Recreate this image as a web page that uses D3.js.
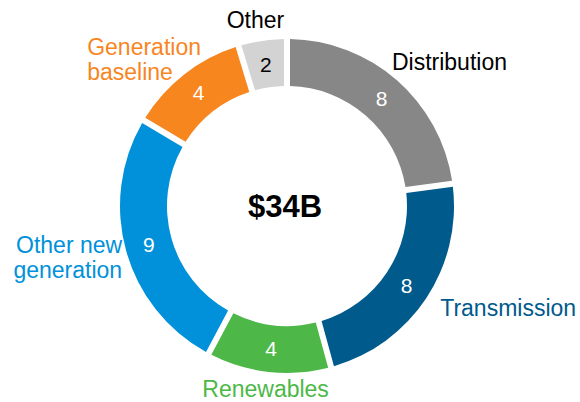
<!DOCTYPE html>
<html>
<head>
<meta charset="utf-8">
<script src="https://cdn.jsdelivr.net/npm/d3@7"></script>
<style>
  body { margin: 0; background: #fff; }
  text { font-family: "Liberation Sans", Arial, sans-serif; }
</style>
</head>
<body>
<div id="chart"></div>
<script>
// segments clockwise from 12 o'clock (values in $B, estimated from the arc sizes)
const categories = ["Distribution", "Transmission", "Renewables", "Other new generation", "Generation baseline", "Other"];
const values = [7.8, 7.8, 4.1, 8.8, 4.0, 1.6];
const labelLines = [["Distribution"], ["Transmission"], ["Renewables"], ["Other new", "generation"], ["Generation", "baseline"], ["Other"]];
const totalLabel = "$34B";

const colors = ["#878787", "#005a8c", "#4db848", "#0091da", "#f7861f", "#d3d3d3"];
const textColors = ["#000000", "#005a8c", "#4db848", "#0091da", "#f7861f", "#000000"];
const valueColors = ["#ffffff", "#ffffff", "#ffffff", "#ffffff", "#ffffff", "#000000"];

const config = {
    width: 580,
    height: 402,
    cx: 287,
    cy: 206,
    outer: 167,
    inner: 120,
    gap: 6
};

// where each category label sits relative to the outer edge of its slice
const labelLayout = [
    { anchor: "start", dx: -5, dy: -10 },
    { anchor: "start", dx: 14, dy: 18 },
    { anchor: "middle", dx: -3, dy: 25 },
    { anchor: "end", dx: -4, dy: 2 },
    { anchor: "start", dx: -97, dy: -19 },
    { anchor: "middle", dx: -7, dy: -13 }
];

const data = categories.map((c, i) => ({ name: c, value: values[i], i: i }));

const svg = d3.select("#chart")
    .append("svg")
    .attr("width", config.width)
    .attr("height", config.height);

const g = svg.append("g")
    .attr("transform", "translate(" + config.cx + "," + config.cy + ")");

const pie = d3.pie()
    .sort(null)
    .value(d => d.value);

const arc = d3.arc()
    .innerRadius(config.inner)
    .outerRadius(config.outer)
    .padRadius(config.outer)
    .padAngle(config.gap / config.outer);

const arcs = pie(data);

g.selectAll("path.slice")
    .data(arcs)
    .enter()
    .append("path")
    .attr("class", "slice")
    .attr("d", arc)
    .style("fill", d => colors[d.data.i]);

// value labels inside the ring
g.selectAll("text.value")
    .data(arcs)
    .enter()
    .append("text")
    .attr("class", "value")
    .attr("transform", d => "translate(" + arc.centroid(d) + ")")
    .attr("text-anchor", "middle")
    .attr("dy", "0.36em")
    .style("font-size", "21px")
    .style("fill", d => valueColors[d.data.i])
    .text(d => d3.format(".0f")(d.data.value));

// category labels outside
const outerPoint = d => {
    const a = (d.startAngle + d.endAngle) / 2;
    return [config.outer * Math.sin(a), -config.outer * Math.cos(a)];
};

const labels = g.selectAll("text.label")
    .data(arcs)
    .enter()
    .append("text")
    .attr("class", "label")
    .attr("text-anchor", d => labelLayout[d.data.i].anchor)
    .style("font-size", "23px")
    .style("fill", d => textColors[d.data.i]);

labels.each(function(d) {
    const p = outerPoint(d);
    const lay = labelLayout[d.data.i];
    const x = p[0] + lay.dx;
    const y = p[1] + lay.dy;
    d3.select(this).selectAll("tspan")
        .data(labelLines[d.data.i])
        .enter()
        .append("tspan")
        .attr("x", x)
        .attr("y", (t, j) => y + j * 25)
        .text(t => t);
});

// total in the middle
g.append("text")
    .attr("text-anchor", "middle")
    .attr("x", -2)
    .attr("y", 11)
    .style("font-size", "31px")
    .style("font-weight", "bold")
    .style("fill", "#000")
    .text(totalLabel);
</script>
</body>
</html>
